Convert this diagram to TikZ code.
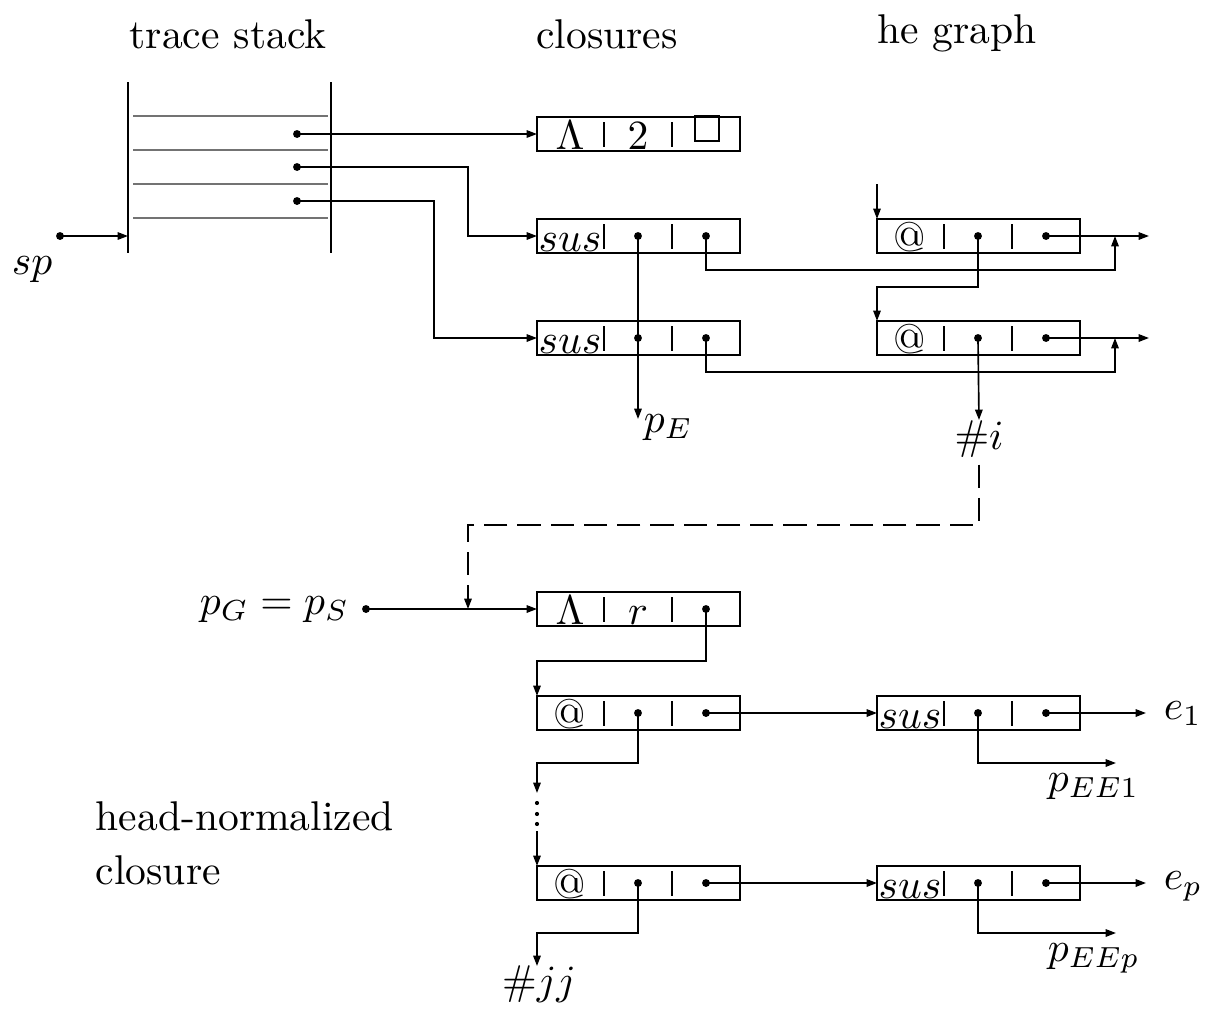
\documentclass[tikz,border=0pt]{standalone}
\usetikzlibrary{arrows.meta}
\tikzset{
  box/.style={draw,line width=0.6pt,minimum width=48.84pt,minimum height=8.2pt,inner sep=0pt,outer sep=0pt},
  sep/.style={line width=0.4pt},
  conn/.style={line width=0.4pt,-{Triangle[length=2.5pt,width=1.8pt]}},
  dsh/.style={conn,dash pattern=on 5.6pt off 2.4pt},
  txt/.style={anchor=base,inner sep=0pt},
  lbl/.style={inner sep=0pt},
}
% A three-field closure cell: name, left x, centre y, field contents
\newcommand\closurebox[6]{%
  \node[box,anchor=west] (#1) at (#2,#3) {};
  \path (#2+33,#3) coordinate (#1-1)
        (#2+101,#3) coordinate (#1-2)
        (#2+169,#3) coordinate (#1-3);
  \draw[sep] (#2+67,#3-12) -- (#2+67,#3+13)
             (#2+135,#3-12) -- (#2+135,#3+13);
  \node[txt] at (#2+33,#3+15) {#4};
  \node[txt] at (#2+101,#3+15) {#5};
  \node[txt] at (#2+169,#3+15) {#6};
}
\begin{document}
\begin{tikzpicture}[x=0.2406pt,y=-0.2406pt]
\useasboundingbox (0,0) rectangle (1214,1012);

% column headings
\node[txt] (h1) at (228,48) {trace stack};
\node[txt] (h2) at (607,48) {closures};
\node[txt] (h3) at (957,43) {he graph};

% trace stack
\draw[line width=0.6pt] (128,82) -- (128,253) (331,82) -- (331,253);
\foreach \yy in {116,150,184,218}
  \draw[line width=0.4pt,black!55] (133,\yy) -- (328,\yy);
\coordinate (t1) at (297,134);
\coordinate (t2) at (297,167);
\coordinate (t3) at (297,201);
\coordinate (stk) at (128,236);
\coordinate (sp) at (60,236);
\node[txt] (splbl) at (32,274) {$sp$};

% closures
\closurebox{c0}{537}{134}{$\Lambda$}{$2$}{}
\node[draw,line width=0.5pt,minimum size=5.8pt,inner sep=0pt] (sq) at (707,128.5) {};
\closurebox{s1}{537}{236}{$sus$}{}{}
\closurebox{s2}{537}{338}{$sus$}{}{}

% graph
\closurebox{g1}{877}{236}{@}{}{}
\closurebox{g2}{877}{338}{@}{}{}
\coordinate (gin) at (877,184);
\coordinate (g1out) at (1149,236);
\coordinate (g2out) at (1149,338);
\coordinate (j1) at (1115,236);
\coordinate (j2) at (1115,338);
\coordinate (pEend) at (638,419);
\node[txt,anchor=base west] (pE) at (643,432) {$p_E$};
\node[lbl,anchor=north] (hashi) at (979,420) {$\#i$};

% head-normalized closure
\node[txt,anchor=base east] (pgs) at (350,614) {$p_G = p_S$};
\coordinate (pg) at (366,609);
\coordinate (jG) at (468,609);
\closurebox{r0}{537}{609}{$\Lambda$}{$r$}{}
\closurebox{a1}{537}{713}{@}{}{}
\closurebox{a2}{537}{883}{@}{}{}
\closurebox{u1}{877}{713}{$sus$}{}{}
\closurebox{u2}{877}{883}{$sus$}{}{}
\coordinate (vd1) at (537,793);
\coordinate (vd2) at (537,831);
\coordinate (jjend) at (537,966);
\node[txt] (hashjj) at (539,994) {$\#jj$};
\coordinate (e1end) at (1146,713);
\coordinate (epend) at (1146,883);
\node[txt,anchor=base west] (e1) at (1163,719) {$e_1$};
\node[txt,anchor=base west] (ep) at (1163,889) {$e_p$};
\coordinate (p1end) at (1116,763);
\coordinate (ppend) at (1116,933);
\node[txt,anchor=base west] (pEE1) at (1047,791) {$p_{EE1}$};
\node[txt,anchor=base west] (pEEp) at (1047,961) {$p_{EEp}$};

\node[lbl,anchor=base west] (hn) at (95,830) {head-normalized};
\node[lbl,anchor=base west] (hn2) at (95,884) {closure};

% pointer dots
\foreach \p in {t1,t2,t3,sp,s1-2,s1-3,s2-2,s2-3,g1-2,g1-3,g2-2,g2-3,pg,r0-3,a1-2,a1-3,a2-2,a2-3,u1-2,u1-3,u2-2,u2-3}
  \fill (\p) circle (0.95pt);
\foreach \yy in {803,814,824}
  \fill (537,\yy) circle (0.5pt);

% connectors
\draw[conn] (sp) -- (stk);
\draw[conn] (t1) -- (c0.west);
\draw[conn] (t2) -- (468,167) |- (s1.west);
\draw[conn] (t3) -- (434,201) |- (s2.west);
\draw[conn] (s1-2) -- (pEend);
\draw[conn] (s1-3) -- ++(0,34) -| (j1);
\draw[conn] (s2-3) -- ++(0,34) -| (j2);
\draw[conn] (gin) -- (g1.north west);
\draw[conn] (g1-3) -- (g1out);
\draw[conn] (g2-3) -- (g2out);
\draw[conn] (g1-2) -- ++(0,51) -| (g2.north west);
\draw[conn] (g2-2) -- (hashi.north);
\draw[dsh] (hashi.south) ++(0,6) |- (468,525) -- (jG);
\draw[conn] (pg) -- (r0.west);
\draw[conn] (r0-3) -- ++(0,52) -| (a1.north west);
\draw[conn] (a1-2) -- ++(0,50) -| (vd1);
\draw[conn] (vd2) -- (a2.north west);
\draw[conn] (a2-2) -- ++(0,50) -| (jjend);
\draw[conn] (a1-3) -- (u1.west);
\draw[conn] (a2-3) -- (u2.west);
\draw[conn] (u1-3) -- (e1end);
\draw[conn] (u2-3) -- (epend);
\draw[conn] (u1-2) -- ++(0,50) -- (p1end);
\draw[conn] (u2-2) -- ++(0,50) -- (ppend);
\end{tikzpicture}
\end{document}
